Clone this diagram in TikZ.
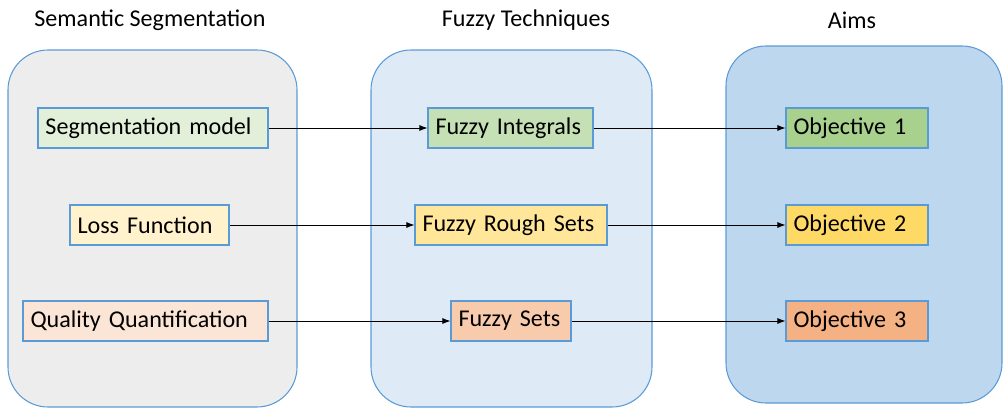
\documentclass[tikz,border=0pt]{standalone}
\usepackage{fontspec}
\setmainfont{Carlito}
\usetikzlibrary{arrows.meta}
\definecolor{panelline}{HTML}{5B9BD5}
\definecolor{panelgray}{HTML}{EDEDED}
\definecolor{panellight}{HTML}{DEEBF7}
\definecolor{panelblue}{HTML}{BDD7EE}
\definecolor{greenA}{HTML}{E2F0D9}
\definecolor{greenB}{HTML}{C5E0B4}
\definecolor{greenC}{HTML}{A9D18E}
\definecolor{yellowA}{HTML}{FFF2CC}
\definecolor{yellowB}{HTML}{FFE699}
\definecolor{yellowC}{HTML}{FFD966}
\definecolor{orangeA}{HTML}{FBE5D6}
\definecolor{orangeB}{HTML}{F8CBAD}
\definecolor{orangeC}{HTML}{F4B183}
\tikzset{
  panel/.style={draw=panelline, line width=0.6pt, rounded corners=0.8cm},
  procbox/.style={draw=panelline, line width=0.6pt, minimum height=0.8cm,
    inner xsep=0.15cm, inner ysep=0pt, align=left,
    execute at begin node={\hyphenpenalty=10000},
    font=\fontsize{13.7}{15}\selectfont},
  heading/.style={font=\fontsize{13.7}{15}\selectfont},
  flow/.style={line width=0.5pt, -{Latex[length=0.16cm,width=0.12cm]}}
}
\begin{document}
\begin{tikzpicture}
                    \useasboundingbox (0.000000,0.000000) rectangle (20.060000,8.160000);
                    
                    % Drawing the three panels
                    \draw [panel, fill=panelgray] (0.160000,0.020000) rectangle (5.940000,7.160000);%
                    \draw [panel, fill=panellight] (7.420000,0.020000) rectangle (13.040000,7.160000);%
                    \draw [panel, fill=panelblue] (14.520000,0.100000) rectangle (20.040000,7.240000);%
                    
                    % Headings
                    \node [heading] (headseg) at (3.000000,7.760000) {Semantic Segmentation};%
                    \node [heading] (headfuzzy) at (10.520000,7.760000) {Fuzzy Techniques};%
                    \node [heading] (headaims) at (17.040000,7.760000) {Aims};%
                    
                    % Semantic segmentation boxes
                    \node [procbox, fill=greenA, text width=4.300000cm] (segmodel) at (3.060000,5.600000) {Segmentation model};%
                    \node [procbox, fill=yellowA, text width=2.880000cm] (loss) at (2.990000,3.660000) {Loss Function};%
                    \node [procbox, fill=orangeA, text width=4.600000cm] (quality) at (2.910000,1.740000) {Quality Quantification};%
                    
                    % Fuzzy technique boxes
                    \node [procbox, fill=greenB, text width=3.000000cm] (integrals) at (10.210000,5.600000) {Fuzzy Integrals};%
                    \node [procbox, fill=yellowB, text width=3.540000cm] (rough) at (10.220000,3.660000) {Fuzzy Rough Sets};%
                    \node [procbox, fill=orangeB, text width=2.100000cm] (fsets) at (10.220000,1.740000) {Fuzzy Sets};%
                    
                    % Objective boxes
                    \node [procbox, fill=greenC, text width=2.540000cm] (obj1) at (17.140000,5.600000) {Objective 1};%
                    \node [procbox, fill=yellowC, text width=2.540000cm] (obj2) at (17.140000,3.660000) {Objective 2};%
                    \node [procbox, fill=orangeC, text width=2.540000cm] (obj3) at (17.140000,1.740000) {Objective 3};%
                    
                    % Drawing the arrows
                    \draw [flow] (segmodel.east) -- (integrals.west);%
                    \draw [flow] (loss.east) -- (rough.west);%
                    \draw [flow] (quality.east) -- (fsets.west);%
                    \draw [flow] (integrals.east) -- (obj1.west);%
                    \draw [flow] (rough.east) -- (obj2.west);%
                    \draw [flow] (fsets.east) -- (obj3.west);%
                \end{tikzpicture}
\end{document}
